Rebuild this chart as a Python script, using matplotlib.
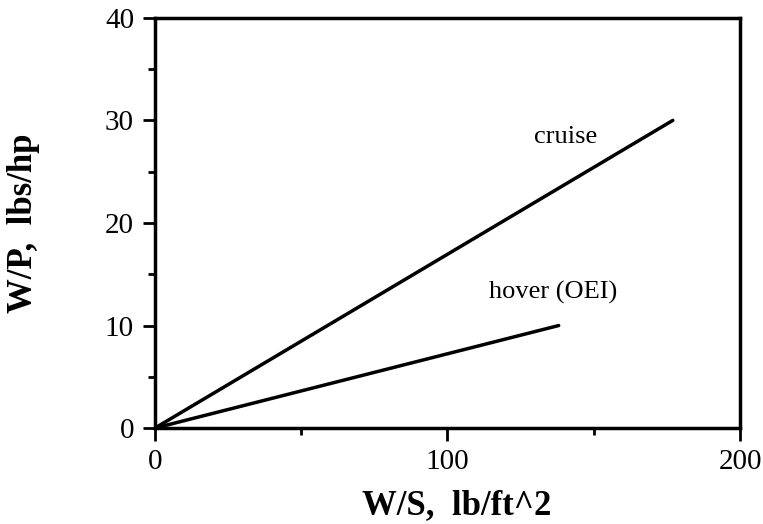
import numpy as np
import matplotlib.pyplot as plt
from matplotlib.ticker import MultipleLocator

plt.rcParams['font.family'] = ['Liberation Serif', 'DejaVu Serif']

# data
cruise_ws = [0, 177]
cruise_wp = [0, 30]
hover_ws = [0, 138]
hover_wp = [0, 10]
x_ticks = [0, 100, 200]
y_ticks = [0, 10, 20, 30, 40]

fig = plt.figure(figsize=(7.63, 5.24), dpi=100)
ax = fig.add_axes([0.203, 0.183, 0.767, 0.783])

ax.plot(cruise_ws, cruise_wp, color='black', lw=2.5, solid_capstyle='round')
ax.plot(hover_ws, hover_wp, color='black', lw=2.5, solid_capstyle='round')

ax.text(140.5, 28.4, 'cruise', fontsize=19, ha='center', va='center')
ax.text(136.2, 13.2, 'hover (OEI)', fontsize=19, ha='center', va='center')

ax.set_xlim(0, 200)
ax.set_ylim(0, 40)
ax.set_xticks(x_ticks)
ax.set_yticks(y_ticks)
ax.xaxis.set_minor_locator(MultipleLocator(50))
ax.yaxis.set_minor_locator(MultipleLocator(5))
ax.tick_params(which='major', direction='out', length=9, width=2, labelsize=21, pad=6)
ax.tick_params(which='minor', direction='out', length=5, width=2)

for s in ax.spines.values():
    s.set_linewidth(2.5)

ax.set_xlabel('W/S,  lb/ft^2', fontsize=25, fontweight='bold')
ax.xaxis.set_label_coords(0.515, -0.148)
ax.set_ylabel('W/P,  lbs/hp', fontsize=25, fontweight='bold')
ax.yaxis.set_label_coords(-0.197, 0.5)

fig.savefig('out.png', dpi=100)
